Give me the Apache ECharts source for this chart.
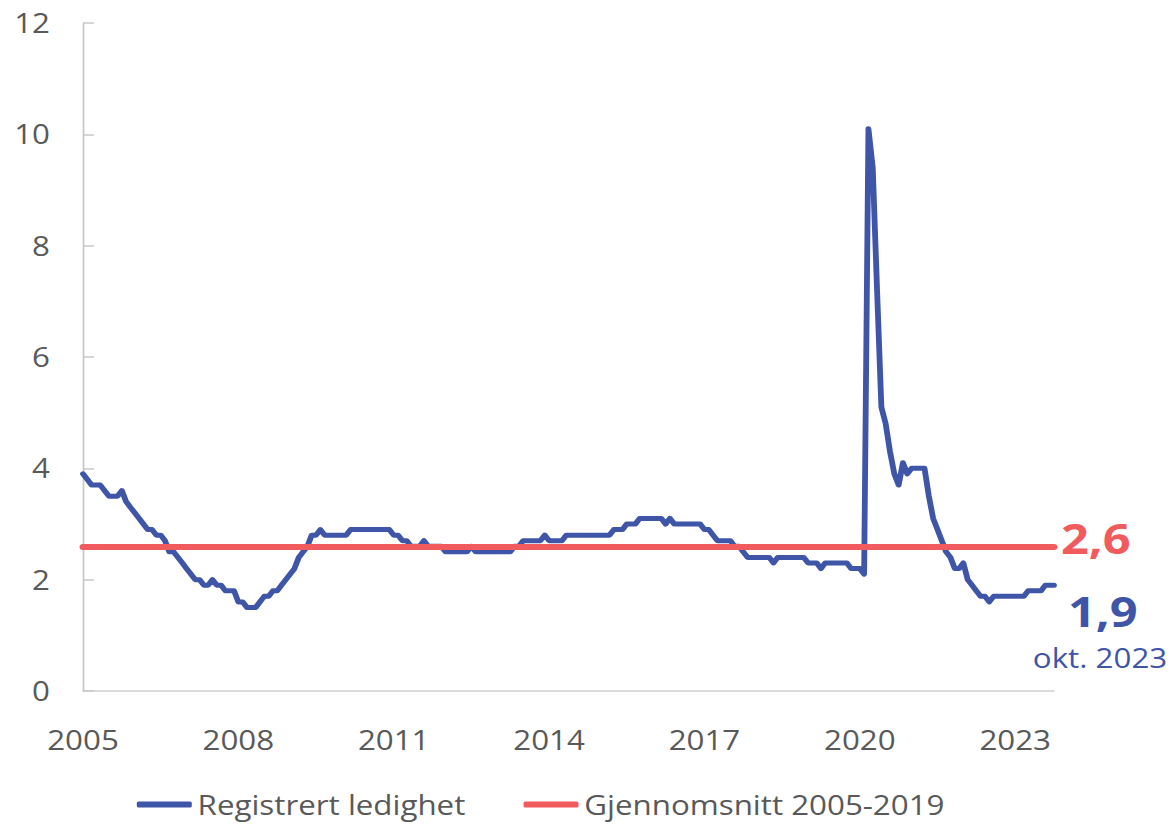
<!DOCTYPE html>
<html>
<head>
<meta charset="utf-8">
<script src="https://cdn.jsdelivr.net/npm/echarts@6/dist/echarts.min.js"></script>
<style>
  html, body { margin: 0; padding: 0; background: #ffffff; overflow: hidden; }
  #wrap { width: 1172px; height: 824px; overflow: hidden; }
  #chart { height: 824px; transform-origin: 0 0; }
</style>
</head>
<body>
<div id="wrap"><div id="chart"></div></div>
<script>
// ---- Data ----
const years = [2005, 2006, 2007, 2008, 2009, 2010, 2011, 2012, 2013, 2014, 2015, 2016, 2017, 2018, 2019, 2020, 2021, 2022, 2023];
const lastMonthOf2023 = 10; // okt. 2023
const tickYears = ['2005', '2008', '2011', '2014', '2017', '2020', '2023'];
const yTicks = [0, 2, 4, 6, 8, 10, 12];

// Registrert ledighet (percent), monthly
const ledighet2005 = [3.9, 3.8, 3.7, 3.7, 3.7, 3.6, 3.5, 3.5, 3.5, 3.6, 3.4, 3.3];
const ledighet2006 = [3.2, 3.1, 3.0, 2.9, 2.9, 2.8, 2.8, 2.7, 2.5, 2.5, 2.4, 2.3];
const ledighet2007 = [2.2, 2.1, 2.0, 2.0, 1.9, 1.9, 2.0, 1.9, 1.9, 1.8, 1.8, 1.8];
const ledighet2008 = [1.6, 1.6, 1.5, 1.5, 1.5, 1.6, 1.7, 1.7, 1.8, 1.8, 1.9, 2.0];
const ledighet2009 = [2.1, 2.2, 2.4, 2.5, 2.6, 2.8, 2.8, 2.9, 2.8, 2.8, 2.8, 2.8];
const ledighet2010 = [2.8, 2.8, 2.9, 2.9, 2.9, 2.9, 2.9, 2.9, 2.9, 2.9, 2.9, 2.9];
const ledighet2011 = [2.8, 2.8, 2.7, 2.7, 2.6, 2.6, 2.6, 2.7, 2.6, 2.6, 2.6, 2.6];
const ledighet2012 = [2.5, 2.5, 2.5, 2.5, 2.5, 2.5, 2.6, 2.5, 2.5, 2.5, 2.5, 2.5];
const ledighet2013 = [2.5, 2.5, 2.5, 2.5, 2.6, 2.6, 2.7, 2.7, 2.7, 2.7, 2.7, 2.8];
const ledighet2014 = [2.7, 2.7, 2.7, 2.7, 2.8, 2.8, 2.8, 2.8, 2.8, 2.8, 2.8, 2.8];
const ledighet2015 = [2.8, 2.8, 2.8, 2.9, 2.9, 2.9, 3.0, 3.0, 3.0, 3.1, 3.1, 3.1];
const ledighet2016 = [3.1, 3.1, 3.1, 3.0, 3.1, 3.0, 3.0, 3.0, 3.0, 3.0, 3.0, 3.0];
const ledighet2017 = [2.9, 2.9, 2.8, 2.7, 2.7, 2.7, 2.7, 2.6, 2.6, 2.5, 2.4, 2.4];
const ledighet2018 = [2.4, 2.4, 2.4, 2.4, 2.3, 2.4, 2.4, 2.4, 2.4, 2.4, 2.4, 2.4];
const ledighet2019 = [2.3, 2.3, 2.3, 2.2, 2.3, 2.3, 2.3, 2.3, 2.3, 2.3, 2.2, 2.2];
const ledighet2020 = [2.2, 2.1, 10.1, 9.4, 7.2, 5.1, 4.8, 4.3, 3.9, 3.7, 4.1, 3.9];
const ledighet2021 = [4.0, 4.0, 4.0, 4.0, 3.5, 3.1, 2.9, 2.7, 2.5, 2.4, 2.2, 2.2];
const ledighet2022 = [2.3, 2.0, 1.9, 1.8, 1.7, 1.7, 1.6, 1.7, 1.7, 1.7, 1.7, 1.7];
const ledighet2023 = [1.7, 1.7, 1.7, 1.8, 1.8, 1.8, 1.8, 1.9, 1.9, 1.9];

// Gjennomsnitt 2005-2019
const avgValue = 2.6;
const lastLabelText = 'okt. 2023';

const seriesName1 = 'Registrert ledighet';
const seriesName2 = 'Gjennomsnitt 2005-2019';

// ---- Build ----
const ledighet = [].concat(
  ledighet2005, ledighet2006, ledighet2007, ledighet2008, ledighet2009,
  ledighet2010, ledighet2011, ledighet2012, ledighet2013, ledighet2014,
  ledighet2015, ledighet2016, ledighet2017, ledighet2018, ledighet2019,
  ledighet2020, ledighet2021, ledighet2022, ledighet2023
);
const categories = [];
years.forEach(function (y) {
  const n = (y === 2023) ? lastMonthOf2023 : 12;
  for (let m = 1; m <= n; m++) categories.push(y + '-' + (m < 10 ? '0' + m : m));
});

// The reference is drawn horizontally widened; reproduce by a horizontal stretch.
const SX = 1.16;
const W = 1172, H = 824;
const el = document.getElementById('chart');
el.style.width = (W / SX) + 'px';
el.style.transform = 'scaleX(' + SX + ')';
function px(v) { return v / SX; }

const BLUE = '#3F55A7';
const RED = '#F15B5E';
const GREY_TXT = '#595959';
const FONT = '"Open Sans", "Noto Sans", sans-serif';

function fmt(v) { return v.toFixed(1).replace('.', ','); }

const chart = echarts.init(el, null, { renderer: 'svg', width: W / SX, height: H });

const option = {
  animation: false,
  backgroundColor: '#ffffff',
  textStyle: { fontFamily: FONT },
  grid: { left: px(83), right: px(118), top: 23, bottom: 133, containLabel: false },
  legend: {
    data: [seriesName1, seriesName2],
    left: px(131),
    top: 786,
    itemWidth: px(55),
    itemHeight: 6,
    itemGap: px(58),
    icon: 'roundRect',
    textStyle: { fontFamily: FONT, fontSize: 27, color: GREY_TXT }
  },
  xAxis: {
    type: 'category',
    data: categories,
    boundaryGap: false,
    axisLine: { show: true, lineStyle: { color: '#d0d0d0', width: 1.5 } },
    axisTick: { show: false },
    axisLabel: {
      interval: 0,
      margin: 35,
      fontFamily: FONT,
      fontSize: 27,
      color: GREY_TXT,
      formatter: function (val) {
        const y = val.slice(0, 4), m = val.slice(5);
        return (m === '01' && tickYears.indexOf(y) >= 0) ? y : '';
      }
    },
    splitLine: { show: false }
  },
  yAxis: {
    type: 'value',
    min: yTicks[0],
    max: yTicks[yTicks.length - 1],
    interval: 2,
    axisLine: { show: true, lineStyle: { color: '#c8c8c8', width: 1.5 } },
    axisTick: { show: true, inside: true, length: px(11), lineStyle: { color: '#c8c8c8', width: 1.5 } },
    axisLabel: { margin: px(33), fontFamily: FONT, fontSize: 27, color: GREY_TXT },
    splitLine: { show: false }
  },
  series: [
    {
      name: seriesName1,
      type: 'line',
      data: ledighet,
      showSymbol: false,
      symbol: 'none',
      lineStyle: { color: BLUE, width: 5, cap: 'round', join: 'round' },
      itemStyle: { color: BLUE },
      z: 3
    },
    {
      name: seriesName2,
      type: 'line',
      data: [],
      symbol: 'none',
      lineStyle: { color: RED, width: 6 },
      itemStyle: { color: RED },
      z: 2,
      markLine: {
        silent: true,
        symbol: ['none', 'none'],
        label: { show: false },
        lineStyle: { color: RED, width: 6, type: 'solid', cap: 'round' },
        data: [{ yAxis: avgValue }]
      }
    }
  ]
};

chart.setOption(option);

const lastIdx = categories.length - 1;
const lastVal = ledighet[lastIdx];
const pAvg = chart.convertToPixel({ gridIndex: 0 }, [categories[lastIdx], avgValue]);
const pLast = chart.convertToPixel({ gridIndex: 0 }, [categories[lastIdx], lastVal]);

chart.setOption({
  graphic: [
    {
      type: 'text', x: pAvg[0] + px(7), y: pAvg[1] - 9,
      style: { text: fmt(avgValue), fill: RED, font: 'bold 42px ' + FONT, align: 'left', verticalAlign: 'middle' }
    },
    {
      type: 'text', x: pLast[0] + px(14), y: pLast[1] + 25,
      style: { text: fmt(lastVal), fill: BLUE, font: 'bold 42px ' + FONT, align: 'left', verticalAlign: 'middle' }
    },
    {
      type: 'text', x: pLast[0] + px(46), y: pLast[1] + 73,
      style: { text: lastLabelText, fill: BLUE, font: '27px ' + FONT, align: 'center', verticalAlign: 'middle' }
    }
  ]
});
</script>
</body>
</html>
